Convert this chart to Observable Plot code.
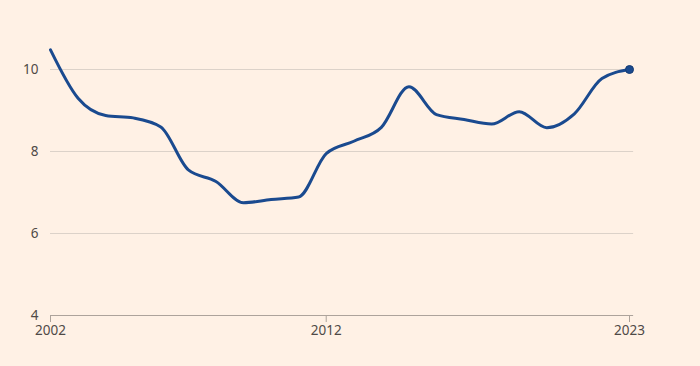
<!DOCTYPE html>
<html>
<head>
<meta charset="utf-8">
<script src="https://cdn.jsdelivr.net/npm/d3@7"></script>
<script src="https://cdn.jsdelivr.net/npm/@observablehq/plot@0.6"></script>
<style>
  html, body { margin: 0; padding: 0; background: #FFF1E5; }
  #chart svg { display: block; }
</style>
</head>
<body>
<div id="chart"></div>
<script>
const years = [2002, 2003, 2004, 2005, 2006, 2007, 2008, 2009, 2010, 2011, 2012, 2013, 2014, 2015, 2016, 2017, 2018, 2019, 2020, 2021, 2022, 2023];
const values = [10.48, 9.3, 8.88, 8.82, 8.6, 7.55, 7.27, 6.75, 6.83, 6.89, 7.95, 8.25, 8.59, 9.58, 8.9, 8.78, 8.67, 8.97, 8.58, 8.92, 9.78, 10.0];
const yTicks = [4, 6, 8, 10];
const xTicks = [2002, 2012, 2023];

const data = years.map((y, i) => ({year: y, value: values[i]}));
const last = data[data.length - 1];

const chart = Plot.plot({
  width: 700,
  height: 366,
  marginLeft: 50,
  marginRight: 71,
  marginTop: 28,
  marginBottom: 51,
  style: {background: "#FFF1E5", fontFamily: "'Noto Sans', sans-serif", fontSize: "13.5px", color: "#4f4a47"},
  x: {domain: [2002, 2023]},
  y: {domain: [4, 11]},
  marks: [
    Plot.ruleY(yTicks.filter(d => d !== 4), {x1: 2002, x2: 2023.15, stroke: "#DCD2C9", strokeWidth: 1}),
    Plot.ruleY([4], {x1: 2002, x2: 2023.15, stroke: "#ADA39B", strokeWidth: 1}),
    Plot.axisY({ticks: yTicks, tickFormat: "d", tickSize: 0, tickPadding: 12, label: null, fill: "#4f4a47"}),
    Plot.axisX({ticks: xTicks, tickFormat: "d", tickSize: 7, tickPadding: 3, label: null, stroke: "#ADA39B", fill: "#4f4a47"}),
    Plot.line(data, {x: "year", y: "value", curve: "monotone-x", stroke: "#1A4A8F", strokeWidth: 3}),
    Plot.dot([last], {x: "year", y: "value", r: 4, fill: "#1A4A8F", stroke: "#143a72", strokeWidth: 1})
  ]
});
document.getElementById("chart").appendChild(chart);
</script>
</body>
</html>
